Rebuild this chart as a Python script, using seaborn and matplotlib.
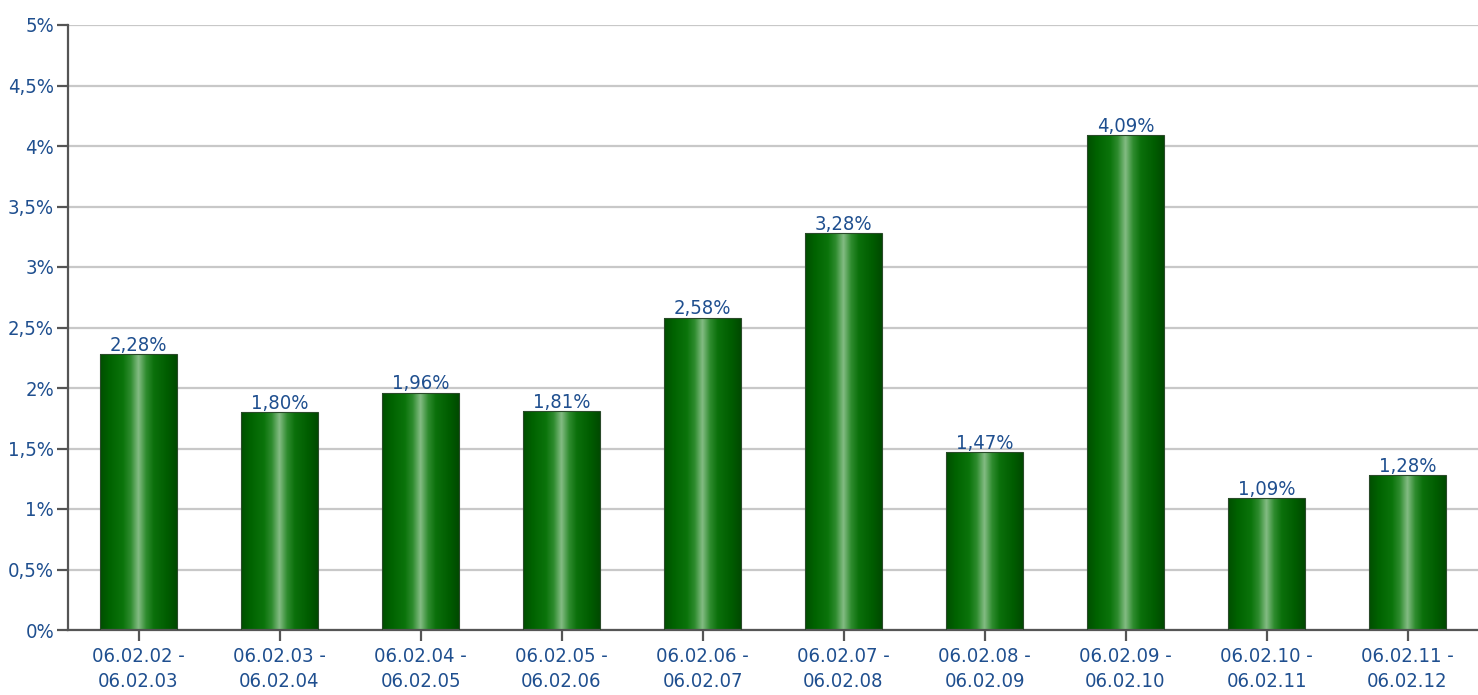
import numpy as np
import pandas as pd
import matplotlib
matplotlib.use("Agg")
import matplotlib.pyplot as plt
import seaborn as sns
from matplotlib.colors import LinearSegmentedColormap
from matplotlib.ticker import FuncFormatter, MultipleLocator
from matplotlib import font_manager

periods = ["06.02.02 -\n06.02.03", "06.02.03 -\n06.02.04", "06.02.04 -\n06.02.05",
           "06.02.05 -\n06.02.06", "06.02.06 -\n06.02.07", "06.02.07 -\n06.02.08",
           "06.02.08 -\n06.02.09", "06.02.09 -\n06.02.10", "06.02.10 -\n06.02.11",
           "06.02.11 -\n06.02.12"]
values = [2.28, 1.80, 1.96, 1.81, 2.58, 3.28, 1.47, 4.09, 1.09, 1.28]

df = pd.DataFrame({"period": periods, "value": values})

sns.set_theme(style="white")

# pick a narrow font if available
names = {f.name for f in font_manager.fontManager.ttflist}
cond = [f for f in font_manager.fontManager.ttflist
        if f.name == "DejaVu Sans" and f.stretch == "condensed" and f.weight in (400, "normal")]
if "Liberation Sans Narrow" in names:
    fam = ["Liberation Sans Narrow", "DejaVu Sans"]
    stretch = "normal"
    fsize = 15
elif cond:
    fam = ["DejaVu Sans"]
    stretch = "condensed"
    fsize = 14.5
else:
    fam = ["Liberation Sans", "DejaVu Sans"]
    stretch = "normal"
    fsize = 14
plt.rcParams['font.family'] = fam
plt.rcParams['font.stretch'] = stretch

text_color = "#1f4f8f"

fig = plt.figure(figsize=(14.78, 6.95), dpi=100)
ax = fig.add_axes([68/1478, 65/695, 1 - 68/1478, (630-25)/695])

sns.barplot(data=df, x="period", y="value", color="#006600", width=0.54,
            ax=ax, zorder=3, saturation=1)

ax.set_xlim(-0.5, 9.5)
ax.set_ylim(0, 5)

# gradient fill on bars
cmap = LinearSegmentedColormap.from_list("g", [
    (0.0, "#004e00"), (0.12, "#006200"), (0.3, "#0b740b"), (0.4, "#2f8c2f"),
    (0.5, "#84bc84"), (0.6, "#2f8c2f"), (0.7, "#0b700b"), (0.88, "#005c00"),
    (1.0, "#004a00")])
grad = np.linspace(0, 1, 256).reshape(1, -1)
for p in list(ax.patches):
    x0, y0 = p.get_x(), p.get_y()
    w, h = p.get_width(), p.get_height()
    p.set_facecolor("none")
    p.set_edgecolor("#2a4a2a")
    p.set_linewidth(0.8)
    im = ax.imshow(grad, cmap=cmap, aspect="auto", extent=[x0, x0 + w, y0, y0 + h],
                   zorder=2.5, interpolation="bilinear")
    im.set_clip_path(p)

ax.set_xlim(-0.5, 9.5)
ax.set_ylim(0, 5)

# value labels
for i, v in enumerate(values):
    ax.text(i, v - 0.005, f"{v:.2f}%".replace(".", ","), ha="center", va="bottom",
            color=text_color, fontsize=fsize, zorder=5)

ax.yaxis.set_major_locator(MultipleLocator(0.5))
ax.yaxis.set_major_formatter(FuncFormatter(lambda y, _: (f"{y:g}%").replace(".", ",")))
ax.grid(axis="y", color="#c8c8c8", linewidth=1.6, zorder=0)
ax.set_axisbelow(True)

for s in ["top", "right"]:
    ax.spines[s].set_visible(False)
for s in ["left", "bottom"]:
    ax.spines[s].set_color("#555555")
    ax.spines[s].set_linewidth(1.6)

ax.tick_params(axis="both", direction="out", length=8, width=1.6, color="#555555",
               labelcolor=text_color, labelsize=fsize, left=True, bottom=True)
ax.tick_params(axis="y", pad=2)
ax.tick_params(axis="x", pad=4)
ax.set_xlabel("")
ax.set_ylabel("")
for lbl in ax.get_xticklabels():
    lbl.set_linespacing(1.45)

fig.savefig("out.png", dpi=100)
